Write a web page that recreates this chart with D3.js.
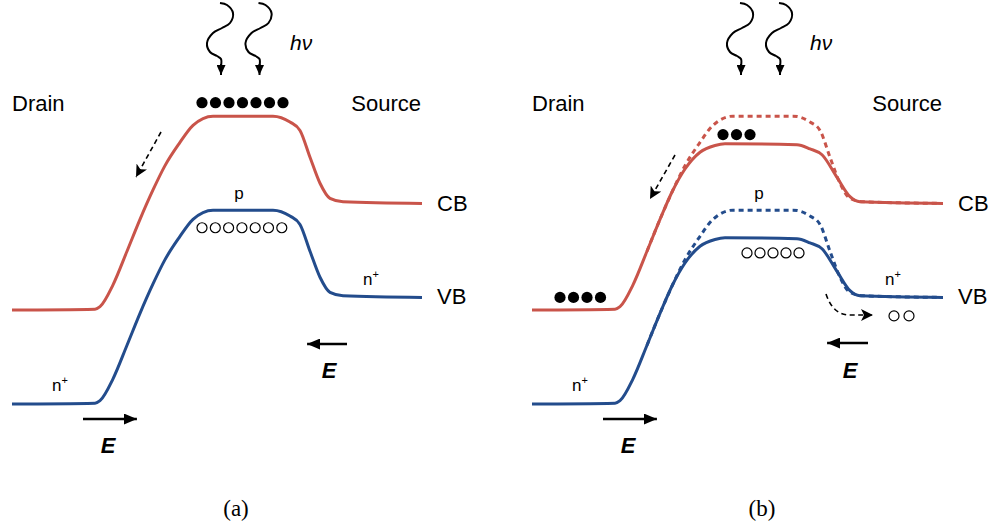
<!DOCTYPE html>
<html><head><meta charset="utf-8">
<script src="https://cdn.jsdelivr.net/npm/d3@7"></script>
<style>body{margin:0;background:#fff}svg{display:block}</style>
</head><body>
<svg id="c" width="993" height="529"></svg>
<script>
// ---- data (position along device, energy in eV) ----
const bandGap = 1.12;
const cbA_pos = [0, 83, 88, 101, 115, 128, 141, 153, 167, 181, 201, 261, 278, 288, 298, 308, 318, 331, 410];
const cbA_E   = [1.12, 1.13, 1.16, 1.42, 1.82, 2.20, 2.55, 2.84, 3.10, 3.32, 3.43, 3.43, 3.36, 3.26, 2.94, 2.63, 2.45, 2.41, 2.39];
const cbB_pos = [0, 83, 88, 101, 115, 128, 141, 153, 168, 183, 193, 265, 278, 290, 305, 318, 328, 411];
const cbB_E   = [1.12, 1.13, 1.16, 1.42, 1.82, 2.20, 2.55, 2.80, 3.00, 3.08, 3.10, 3.09, 3.04, 2.97, 2.70, 2.47, 2.41, 2.39];
// carriers
const electronsA_pos = [190, 203.5, 217, 230.5, 244, 257.5, 271];
const electronsA_E = 3.59;
const holesA_pos = [190, 203.3, 216.6, 229.9, 243.2, 256.5, 269.8];
const holesA_E = 2.10;
const electronsBTop_pos = [191, 204.5, 218];
const electronsBTop_E = 3.21;
const electronsBLeft_pos = [28, 41.5, 55, 68.5];
const electronsBLeft_E = 1.27;
const holesBWell_pos = [215, 228, 241, 254, 267];
const holesBWell_E = 1.80;
const holesBRight_pos = [362, 377];
const holesBRight_E = 1.05;

const labelsText = {drain: "Drain", source: "Source", cb: "CB", vb: "VB", p: "p", n: "n", light: "hν", field: "E"};
const captions = ["(a)", "(b)"];

// ---- scales ----
const red = "#c9544a", blue = "#234c8c";
const svg = d3.select("#c");
const y = d3.scaleLinear().domain([0, bandGap]).range([404, 310]);
const xA = d3.scaleLinear().domain([0, 410]).range([12, 422]);
const xB = d3.scaleLinear().domain([0, 410]).range([532, 942]);

const defs = svg.append("defs");
function marker(id, len, hw, notch) {
  defs.append("marker").attr("id", id)
    .attr("viewBox", `0 ${-hw} ${len} ${2 * hw}`)
    .attr("refX", len).attr("refY", 0)
    .attr("markerWidth", len).attr("markerHeight", 2 * hw)
    .attr("markerUnits", "userSpaceOnUse").attr("orient", "auto")
    .append("path").attr("d", `M0,${-hw}L${len},0L0,${hw}L${notch},0Z`).attr("fill", "#000");
}
marker("headE", 13, 5.5, 0);
marker("headD", 12, 6, 3);
marker("headP", 10, 4.5, 0);

function band(x, pos, E, shift, color, dashed, fromPos) {
  const line = d3.line().x(d => x(d[0])).y(d => y(d[1] - shift)).curve(d3.curveMonotoneX);
  let pts = pos.map((p, i) => [p, E[i]]);
  if (fromPos != null) pts = pts.filter(d => d[0] >= fromPos);
  svg.append("path").attr("d", line(pts)).attr("fill", "none")
    .attr("stroke", color).attr("stroke-width", 3)
    .attr("stroke-dasharray", dashed ? "5,4" : null)
    .attr("stroke-linecap", "butt").attr("stroke-linejoin", "round");
}

function carriers(x, pos, E, filled) {
  svg.append("g").selectAll("circle").data(pos).join("circle")
    .attr("cx", d => x(d)).attr("cy", y(E))
    .attr("r", filled ? 5.6 : 5)
    .attr("fill", filled ? "#000" : "#fff")
    .attr("stroke", "#000").attr("stroke-width", filled ? 0 : 1.2);
}

function text(xp, yp, s, opts = {}) {
  const t = svg.append("text").attr("x", xp).attr("y", yp)
    .attr("font-family", opts.family || "'Liberation Sans', Arial, sans-serif")
    .attr("font-size", opts.size || 22)
    .attr("font-style", opts.style || "normal")
    .attr("font-weight", opts.weight || "normal")
    .attr("text-anchor", opts.anchor || "start")
    .attr("fill", "#000");
  if (opts.sup) {
    t.text(s);
    t.append("tspan").attr("dy", -7).attr("font-size", 11).text("+");
  } else t.text(s);
  return t;
}

function photon(x, lp) {
  const rel = [[-1, 3], [6, 5], [12, 13], [9, 23], [1, 28], [-8, 33], [-14, 43], [-11, 52], [-4, 56], [0, 59], [0, 66]];
  const xp = x(lp);
  const line = d3.line().x(d => xp + d[0]).y(d => d[1]).curve(d3.curveCatmullRom);
  svg.append("path").attr("d", line(rel)).attr("fill", "none").attr("stroke", "#000").attr("stroke-width", 2);
  svg.append("path").attr("d", `M${xp},64L${xp},75`).attr("stroke", "#000").attr("stroke-width", 2).attr("marker-end", "url(#headP)");
}

function arrowE(x1, x2, yp) {
  const dir = Math.sign(x2 - x1);
  svg.append("line").attr("x1", x1).attr("y1", yp).attr("x2", x2 - dir * 0.1).attr("y2", yp)
    .attr("stroke", "#000").attr("stroke-width", 2.4).attr("marker-end", "url(#headE)");
}
function arrowDash(x1, y1, x2, y2) {
  svg.append("line").attr("x1", x1).attr("y1", y1).attr("x2", x2).attr("y2", y2)
    .attr("stroke", "#000").attr("stroke-width", 1.6).attr("stroke-dasharray", "5,3.5")
    .attr("marker-end", "url(#headD)");
}

// ---- panel (a) ----
band(xA, cbA_pos, cbA_E, 0, red, false);
band(xA, cbA_pos, cbA_E, bandGap, blue, false);
carriers(xA, electronsA_pos, electronsA_E, true);
carriers(xA, holesA_pos, holesA_E, false);
photon(xA, 209); photon(xA, 247.5);
text(xA(278), 50, labelsText.light, {style: "italic", size: 21});
text(xA(0), 111, labelsText.drain);
text(xA(409), 111, labelsText.source, {anchor: "end"});
text(xA(425), 211, labelsText.cb);
text(xA(425), 304, labelsText.vb);
text(xA(227), 199, labelsText.p, {size: 17, anchor: "middle"});
text(xA(40), 391, labelsText.n, {size: 17, sup: true});
text(xA(351), 285, labelsText.n, {size: 17, sup: true});
arrowDash(xA(149), 132, xA(124), 177);
arrowE(xA(71), xA(125), 419);
arrowE(xA(335), xA(295), 344);
text(xA(96), 453, labelsText.field, {style: "italic", weight: "bold", size: 22, anchor: "middle"});
text(xA(317), 378, labelsText.field, {style: "italic", weight: "bold", size: 22, anchor: "middle"});
text(xA(224), 516, captions[0], {family: "'Liberation Serif', 'Times New Roman', serif", size: 23, anchor: "middle"});

// ---- panel (b) ----
band(xB, cbB_pos, cbB_E, 0, red, false);
band(xB, cbB_pos, cbB_E, bandGap, blue, false);
band(xB, cbA_pos, cbA_E, 0, red, true, 115);
band(xB, cbA_pos, cbA_E, bandGap, blue, true, 115);
carriers(xB, electronsBTop_pos, electronsBTop_E, true);
carriers(xB, electronsBLeft_pos, electronsBLeft_E, true);
carriers(xB, holesBWell_pos, holesBWell_E, false);
carriers(xB, holesBRight_pos, holesBRight_E, false);
photon(xB, 209); photon(xB, 248);
text(xB(278), 50, labelsText.light, {style: "italic", size: 21});
text(xB(0), 111, labelsText.drain);
text(xB(410), 111, labelsText.source, {anchor: "end"});
text(xB(426), 211, labelsText.cb);
text(xB(426), 304, labelsText.vb);
text(xB(227), 199, labelsText.p, {size: 17, anchor: "middle"});
text(xB(40), 391, labelsText.n, {size: 17, sup: true});
text(xB(353), 285, labelsText.n, {size: 17, sup: true});
arrowDash(xB(143), 155, xB(118), 199);
{
  const p = d3.path();
  p.moveTo(xB(294), 294);
  p.bezierCurveTo(xB(298), 306, xB(305), 315, xB(318), 315);
  p.lineTo(xB(341), 315);
  svg.append("path").attr("d", p.toString()).attr("fill", "none").attr("stroke", "#000")
    .attr("stroke-width", 1.6).attr("stroke-dasharray", "5,3.5").attr("marker-end", "url(#headD)");
}
arrowE(xB(71), xB(125), 419);
arrowE(xB(336), xB(295), 343);
text(xB(96), 453, labelsText.field, {style: "italic", weight: "bold", size: 22, anchor: "middle"});
text(xB(318), 378, labelsText.field, {style: "italic", weight: "bold", size: 22, anchor: "middle"});
text(xB(230), 516, captions[1], {family: "'Liberation Serif', 'Times New Roman', serif", size: 23, anchor: "middle"});
</script>
</body></html>
